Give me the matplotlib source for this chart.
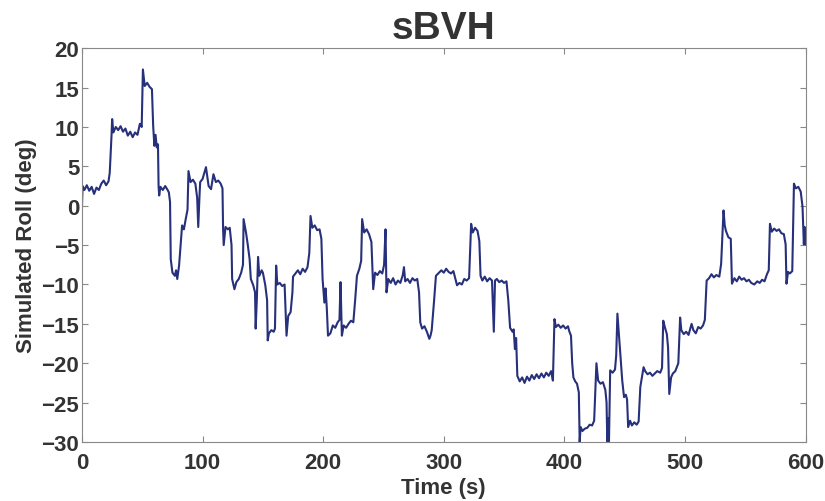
import matplotlib.pyplot as plt

# Simulated roll trace (time in s, roll in deg)
time_s = [
    0, 0.5, 2, 4, 6, 8, 10, 12, 14, 16, 18, 20, 22, 23, 24.5, 25, 26, 28, 30, 32,
    34, 36, 38, 40, 42, 44, 46, 48, 49.5, 50.5, 52, 54, 56, 58, 59, 60, 61, 62, 63, 63.5,
    64, 65, 67, 69, 71, 72, 73, 73.6, 75, 77, 78, 79, 80.5, 82, 83, 84.5, 86, 87.5, 88.3, 90,
    92, 94, 95.5, 96.4, 97.5, 98, 100, 102.8, 104, 105, 107, 109, 111, 113, 115, 116.5, 117, 117.5, 119, 121,
    122.5, 124, 124.5, 126.4, 128, 130, 132, 133.5, 134, 136, 137.5, 139, 140, 142, 143.5, 144, 145, 146, 147, 149,
    150, 152, 153.5, 154, 155, 157, 159, 160, 161, 162, 164, 166, 168, 169.6, 171, 173, 174.5, 175, 177, 179,
    181, 183, 185, 187, 188.5, 189.5, 191, 193, 195, 197, 198.5, 199.5, 201, 202, 203, 204, 206, 208, 210, 212,
    213.5, 214.4, 215.5, 217, 219, 221, 223, 225, 226.5, 228, 230, 231.5, 232.3, 234, 236, 238, 240, 241.5, 243, 245,
    247, 249, 250.5, 251.7, 252.5, 254, 256, 258, 260, 262, 264, 266, 267, 268, 270, 272, 274, 276, 278, 279.5,
    280.5, 282, 284, 286, 288, 289, 290, 292, 293.5, 296, 298, 300, 302, 304, 306, 308, 310, 311, 313, 315,
    317, 319, 321, 322.7, 324, 326, 328, 329.5, 330.5, 332, 334, 336, 338, 340, 341.5, 342.5, 344, 346, 348, 350,
    352, 353.5, 355, 357, 358, 359, 360, 361, 363, 365, 367, 369, 371, 373, 375, 377, 379, 381, 383, 385,
    387, 389, 390.5, 391.8, 393, 395, 397, 399, 401, 403, 404, 405.5, 406.5, 407.5, 409, 410.5, 412, 412.7, 413.5, 415,
    417, 419, 421, 423, 424.7, 426.6, 428, 430, 432, 434, 435, 435.6, 436.3, 437, 438, 440, 442, 443, 444, 445,
    446.6, 448, 449.5, 451, 452, 452.9, 454.5, 456, 458, 460, 461.6, 463, 465.7, 467, 469, 471, 473, 475, 477, 479.5,
    481, 482, 483.5, 485, 486, 487, 488.5, 490, 492, 494.5, 496, 497, 499, 501, 503, 505.5, 507, 509, 511, 513,
    515, 516.5, 518, 520, 522, 524, 526, 528.5, 530, 532, 533, 534, 536, 538, 539, 541, 543, 545, 547, 549,
    551, 553, 555, 557.5, 560, 562, 564, 566, 568, 569.5, 570.5, 572, 574, 576, 578, 580, 582, 583.5, 584.2, 585.5,
    587, 589, 590.4, 592, 594, 596, 597.5, 598.6, 599.3, 600,
]
roll_deg = [
    0, 2.5, 2.0, 2.6, 1.9, 2.4, 1.5, 2.3, 2.0, 2.8, 3.2, 2.6, 3.1, 4.2, 9.0, 11.0, 9.3, 10.0, 9.6, 10.1,
    9.4, 9.8, 8.9, 9.4, 8.7, 9.3, 9.0, 10.4, 10.0, 17.3, 15.2, 15.6, 15.1, 14.8, 10.2, 7.6, 9.0, 7.4, 7.8, 2.5,
    1.3, 2.4, 2.0, 2.5, 2.0, 1.7, 0.5, -6.8, -8.5, -8.9, -8.2, -9.3, -7.6, -4.6, -2.5, -3.0, -1.7, -0.5, 4.4, 3.0,
    3.3, 2.8, 1.0, -2.7, 1.5, 3.0, 3.4, 4.9, 3.6, 2.5, 2.1, 4.0, 3.0, 3.2, 2.8, 2.2, -3.0, -5.0, -2.7, -3.0,
    -2.8, -5.0, -9.3, -10.6, -9.7, -9.3, -8.5, -7.5, -1.7, -3.4, -5.0, -6.8, -9.3, -10.1, -11.0, -15.6, -11.8, -6.5, -8.9, -8.2,
    -8.5, -10.1, -12.0, -17.1, -16.2, -15.8, -16.0, -15.6, -7.6, -10.0, -9.8, -10.2, -10.0, -16.5, -14.0, -13.5, -11.0, -9.0, -8.6, -8.2,
    -8.7, -8.0, -8.4, -7.8, -6.0, -1.3, -2.8, -2.5, -3.1, -3.0, -4.2, -9.3, -12.3, -10.5, -13.0, -16.5, -16.2, -15.2, -15.5, -14.8,
    -14.5, -9.7, -16.5, -15.2, -15.5, -15.0, -14.6, -14.8, -12.0, -8.9, -8.0, -7.0, -1.7, -3.4, -3.0, -3.6, -4.6, -10.6, -8.5, -8.8,
    -8.3, -8.6, -7.5, -3.0, -11.0, -9.3, -9.8, -9.2, -10.0, -9.5, -9.8, -8.8, -7.8, -9.6, -9.3, -9.8, -9.2, -9.5, -9.3, -11.0,
    -14.8, -15.6, -15.3, -16.0, -16.9, -16.5, -15.8, -12.0, -8.9, -8.5, -8.2, -8.5, -8.0, -8.4, -8.6, -8.3, -9.5, -10.1, -9.8, -10.0,
    -9.3, -9.5, -9.2, -2.3, -3.4, -2.8, -3.2, -4.5, -8.9, -9.5, -9.0, -9.6, -9.2, -9.5, -16.0, -9.5, -9.3, -9.7, -9.5, -9.8,
    -9.6, -12.0, -15.5, -16.0, -15.7, -18.2, -16.8, -21.6, -22.3, -21.8, -22.5, -21.7, -22.2, -21.5, -22.0, -21.4, -21.9, -21.3, -21.8, -21.2,
    -21.6, -21.0, -22.2, -14.4, -15.4, -15.1, -15.5, -15.2, -15.6, -15.3, -15.9, -16.5, -20.0, -21.8, -22.3, -22.6, -23.7, -30.0, -28.1, -28.6,
    -28.3, -28.2, -27.8, -27.9, -27.3, -20.0, -22.2, -22.6, -22.4, -23.4, -25.0, -30.0, -27.0, -30.0, -20.9, -21.2, -20.8, -19.0, -13.7, -15.8,
    -19.3, -22.2, -24.3, -24.0, -24.6, -28.1, -27.3, -27.9, -27.5, -27.8, -27.4, -23.0, -20.5, -21.0, -21.4, -21.2, -21.6, -21.3, -21.0, -21.2,
    -20.6, -14.6, -15.5, -16.3, -18.0, -23.9, -21.8, -21.3, -21.0, -20.0, -14.2, -15.8, -16.3, -16.0, -16.4, -15.0, -15.8, -16.2, -15.4, -15.6,
    -15.2, -14.5, -9.5, -9.2, -8.7, -9.1, -8.8, -9.0, -7.4, -0.6, -2.5, -3.2, -4.0, -4.2, -9.9, -9.2, -9.6, -9.0, -9.4, -9.2,
    -9.6, -9.4, -9.8, -10.0, -9.6, -9.8, -9.4, -9.6, -8.7, -8.2, -2.3, -3.3, -2.9, -3.2, -3.0, -3.5, -3.6, -4.9, -9.9, -8.4,
    -8.6, -8.3, 2.8, 2.2, 2.4, 1.8, -0.1, -4.9, -2.7, -4.9,
]
x_ticks = [0, 100, 200, 300, 400, 500, 600]
y_ticks = [-30, -25, -20, -15, -10, -5, 0, 5, 10, 15, 20]

plt.rcParams['font.family'] = ['Liberation Sans', 'DejaVu Sans']
text_color = '#333333'

fig = plt.figure(figsize=(8.25, 5.02), dpi=100)
ax = fig.add_axes([0.0994, 0.1175, 0.877, 0.7845])
ax.plot(time_s, roll_deg, color='#27307a', linewidth=1.5)

ax.set_xlim(0, 600)
ax.set_ylim(-30, 20)
ax.set_xticks(x_ticks)
ax.set_yticks(y_ticks)
ax.tick_params(direction='in', length=4, top=True, right=True, colors='#888888',
               labelcolor=text_color, labelsize=16)
ax.tick_params(axis='x', pad=7)
ax.tick_params(axis='y', pad=2)
for lab in ax.get_xticklabels() + ax.get_yticklabels():
    lab.set_fontweight('bold')
for sp in ax.spines.values():
    sp.set_color('#888888')
    sp.set_linewidth(0.8)

ax.set_title('sBVH', fontsize=28, fontweight='bold', color=text_color, pad=7)
ax.set_xlabel('Time (s)', fontsize=16, fontweight='bold', color=text_color, labelpad=3)
ax.set_ylabel('Simulated Roll (deg)', fontsize=16, fontweight='bold', color=text_color, labelpad=3)

fig.savefig('out.png', dpi=100)
